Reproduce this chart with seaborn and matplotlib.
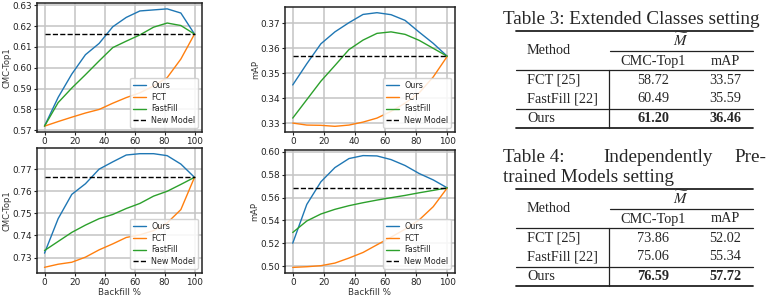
import matplotlib
matplotlib.use("Agg")
import matplotlib.pyplot as plt
import seaborn as sns
import pandas as pd
from matplotlib.lines import Line2D

# ---------------- data ----------------
backfill = [0, 9.1, 18.2, 27.3, 36.4, 45.5, 54.5, 63.6, 72.7, 81.8, 90.9, 100]
methods = ["Ours", "FCT", "FastFill"]

# top-left: CMC-Top1 (Extended Classes)
ours_tl = [0.572, 0.5858, 0.597, 0.6063, 0.6117, 0.6197, 0.6242, 0.6273, 0.6278, 0.6283, 0.6263, 0.6162]
fct_tl = [0.572, 0.5742, 0.5763, 0.5783, 0.5800, 0.5830, 0.5857, 0.5880, 0.5913, 0.5953, 0.6042, 0.6162]
ff_tl = [0.572, 0.5833, 0.5903, 0.5967, 0.6033, 0.6097, 0.6128, 0.6158, 0.6195, 0.6215, 0.6203, 0.6162]
new_tl = 0.6162

# top-right: mAP (Extended Classes)
ours_tr = [0.3453, 0.3538, 0.3618, 0.3666, 0.3703, 0.3736, 0.3743, 0.3735, 0.3712, 0.3665, 0.3620, 0.3568]
fct_tr = [0.3300, 0.3292, 0.3291, 0.3287, 0.3292, 0.3304, 0.3320, 0.3347, 0.3380, 0.3421, 0.3485, 0.3568]
ff_tr = [0.3320, 0.3394, 0.3468, 0.3531, 0.3595, 0.3633, 0.3660, 0.3666, 0.3656, 0.3632, 0.3600, 0.3568]
new_tr = 0.3568

# bottom-left: CMC-Top1 (Independently Pretrained)
ours_bl = [0.732, 0.7476, 0.7586, 0.7634, 0.7700, 0.7733, 0.7764, 0.7770, 0.7770, 0.7761, 0.7723, 0.7663]
fct_bl = [0.7256, 0.7270, 0.7279, 0.7302, 0.7335, 0.7362, 0.7391, 0.7403, 0.7422, 0.7457, 0.7517, 0.7663]
ff_bl = [0.7332, 0.7373, 0.7414, 0.7447, 0.7476, 0.7495, 0.7522, 0.7545, 0.7578, 0.7600, 0.7631, 0.7663]
new_bl = 0.7663

# bottom-right: mAP (Independently Pretrained)
ours_br = [0.520, 0.554, 0.5738, 0.5863, 0.5942, 0.5968, 0.5965, 0.5933, 0.5881, 0.5811, 0.5755, 0.5685]
fct_br = [0.4988, 0.4994, 0.5003, 0.5026, 0.5070, 0.5119, 0.5186, 0.5253, 0.5323, 0.5404, 0.5520, 0.5685]
ff_br = [0.5294, 0.5395, 0.5456, 0.5497, 0.5529, 0.5555, 0.5578, 0.5599, 0.5619, 0.5642, 0.5663, 0.5685]
new_br = 0.5685

yticks_tl = [0.57, 0.58, 0.59, 0.60, 0.61, 0.62, 0.63]
yticks_tr = [0.33, 0.34, 0.35, 0.36, 0.37]
yticks_bl = [0.73, 0.74, 0.75, 0.76, 0.77]
yticks_br = [0.50, 0.52, 0.54, 0.56, 0.58, 0.60]
xticks = [0, 20, 40, 60, 80, 100]

# tables
tab_cols = ["CMC-Top1", "mAP"]
tab_methods = ["FCT [25]", "FastFill [22]", "Ours"]
t3_cmc = ["58.72", "60.49", "61.20"]
t3_map = ["33.57", "35.59", "36.46"]
t4_cmc = ["73.86", "75.06", "76.59"]
t4_map = ["52.02", "55.34", "57.72"]

# ---------------- figure ----------------
sns.set_theme(style="ticks")
plt.rcParams["font.family"] = ["DejaVu Sans"]
plt.rcParams["mathtext.fontset"] = "stix"

W, H = 774, 297
fig = plt.figure(figsize=(W / 100, H / 100), dpi=100)


def box(l, t, r, b):
    return [l / W, 1 - b / H, (r - l) / W, (b - t) / H]


palette = {"Ours": "#1f77b4", "FCT": "#ff7f0e", "FastFill": "#2ca02c"}


def panel(rect, ours, fct, ff, new, yticks, ylabel, show_xlabel):
    ax = fig.add_axes(rect)
    df = pd.DataFrame({
        "Backfill %": backfill * 3,
        "value": ours + fct + ff,
        "method": [m for m in methods for _ in backfill],
    })
    sns.lineplot(data=df, x="Backfill %", y="value", hue="method",
                 hue_order=methods, palette=palette, lw=1.0, ax=ax)
    sns.lineplot(x=[backfill[0], backfill[-1]], y=[new, new], color="black",
                 ls="--", lw=1.0, ax=ax, label="New Model")
    ax.set_xticks(xticks)
    ax.set_yticks(yticks)
    ax.set_yticklabels([f"{v:.2f}" for v in yticks])
    ax.tick_params(labelsize=6.4, length=2, width=0.8, pad=1.5, colors="#222")
    ax.grid(True, color="#c4c4c4", lw=1.1)
    for s in ax.spines.values():
        s.set_color("#222")
        s.set_linewidth(1.1)
    ax.set_ylabel(ylabel, fontsize=6.0, labelpad=0.5, color="#333")
    if show_xlabel:
        ax.set_xlabel("Backfill %", fontsize=6.3, labelpad=0.5, color="#333")
    else:
        ax.set_xlabel("")
    ax.legend(loc="lower right", fontsize=5.8, handlelength=1.6, handletextpad=0.6,
              borderpad=0.35, labelspacing=0.35, framealpha=0.85, edgecolor="#ccc")
    return ax


panel(box(37, 3, 202, 132), ours_tl, fct_tl, ff_tl, new_tl, yticks_tl, "CMC-Top1", False)
panel(box(285, 7, 455, 132), ours_tr, fct_tr, ff_tr, new_tr, yticks_tr, "mAP", False)
panel(box(37, 148, 202, 273), ours_bl, fct_bl, ff_bl, new_bl, yticks_bl, "CMC-Top1", True)
panel(box(285, 150, 455, 273), ours_br, fct_br, ff_br, new_br, yticks_br, "mAP", True)

# ---------------- tables ----------------
serif = "Liberation Serif"


def fx(px):
    return px / W


def fy(py):
    return 1 - py / H


def hline(x0, x1, y, lw):
    fig.add_artist(Line2D([fx(x0), fx(x1)], [fy(y), fy(y)], transform=fig.transFigure,
                          color="#222", lw=lw))


def vline(x, y0, y1, lw):
    fig.add_artist(Line2D([fx(x), fx(x)], [fy(y0), fy(y1)], transform=fig.transFigure,
                          color="#222", lw=lw))


def table(y_top, cmc, mapv):
    L, R, V = 516, 753, 609
    c1, c2 = 653, 725
    ys = dict(top=y_top, m=y_top + 9.5, part=y_top + 20, head=y_top + 30,
              r1=y_top + 39, row0=y_top + 49, row1=y_top + 68, r2=y_top + 78,
              row2=y_top + 87, bot=y_top + 97)
    hline(L, R, ys["top"], 1.3)
    hline(V + 1, R, ys["part"], 0.9)
    hline(L, R, ys["r1"], 0.9)
    hline(L, R, ys["r2"], 0.9)
    hline(L, R, ys["bot"], 1.3)
    vline(V, ys["r1"], ys["bot"], 0.9)
    fs = 10.3
    fig.text(fx(527), fy((ys["top"] + ys["r1"]) / 2), "Method", fontsize=fs,
             family=serif, ha="left", va="center")
    fig.text(fx((V + R) / 2), fy(ys["m"]), r"$\widetilde{M}$", fontsize=fs + 0.5,
             ha="center", va="center")
    fig.text(fx(c1), fy(ys["head"]), tab_cols[0], fontsize=fs, family=serif,
             ha="center", va="center")
    fig.text(fx(c2), fy(ys["head"]), tab_cols[1], fontsize=fs, family=serif,
             ha="center", va="center")
    for i, key in enumerate(["row0", "row1", "row2"]):
        bold = "bold" if i == 2 else "normal"
        fig.text(fx(527), fy(ys[key]), tab_methods[i], fontsize=fs, family=serif,
                 ha="left", va="center")
        fig.text(fx(c1), fy(ys[key]), cmc[i], fontsize=fs, family=serif,
                 ha="center", va="center", weight=bold)
        fig.text(fx(c2), fy(ys[key]), mapv[i], fontsize=fs, family=serif,
                 ha="center", va="center", weight=bold)


tfs = 13.8
fig.text(fx(503), fy(20), "Table 3: Extended Classes setting", fontsize=tfs,
         family=serif, ha="left", va="center")
table(31, t3_cmc, t3_map)

fig.text(fx(503), fy(158), "Table 4:", fontsize=tfs, family=serif, ha="left", va="center")
fig.text(fx(603), fy(158), "Independently", fontsize=tfs, family=serif, ha="left", va="center")
fig.text(fx(766), fy(158), "Pre-", fontsize=tfs, family=serif, ha="right", va="center")
fig.text(fx(503), fy(178), "trained Models setting", fontsize=tfs, family=serif,
         ha="left", va="center")
table(189, t4_cmc, t4_map)

fig.savefig("out.png", dpi=100)
